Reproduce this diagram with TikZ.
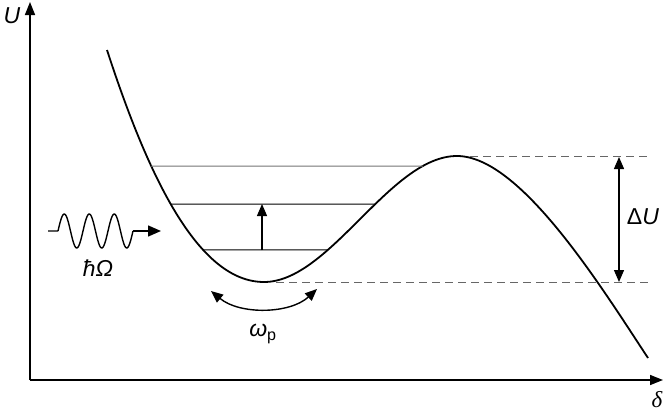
\documentclass[tikz,border=0pt]{standalone}
\usepackage{fontspec}
\setmainfont{Liberation Sans}
\newfontfamily\serifit{Liberation Serif}
\usetikzlibrary{arrows.meta,intersections}
\begin{document}
\begin{tikzpicture}[x=1pt,y=-1pt,
  axis/.style={line width=1.5pt,-{Triangle[length=13pt,width=10pt]}},
  curv/.style={line width=1.8pt},
  level/.style={line width=1pt},
  dsh/.style={line width=1pt,draw=black!60,dash pattern=on 8pt off 5pt},
  tip/.style={-{Triangle[length=12pt,width=10pt]}},
  lbl/.style={font=\fontsize{23}{26}\selectfont\itshape}]
\useasboundingbox (0,0) rectangle (667,415);
% axes
\coordinate (O) at (30,380);
\coordinate (Ytop) at (30,2);
\coordinate (Xend) at (663,380);
\draw[axis] (O) -- (Ytop);
\draw[axis] (O) -- (Xend);
\node[lbl] (Ulab) at (12,16) {U};
\node[font=\fontsize{23}{26}\selectfont\serifit\itshape,inner sep=1pt] (dlab) at (657,400) {δ};
% potential curve
\coordinate (C0) at (107,50);
\coordinate (Cmin) at (264,282);
\coordinate (Cmax) at (457,156);
\coordinate (C1) at (648,358);
\draw[curv,name path=curve] (C0) .. controls (148,176) and (198,282) .. (Cmin)
  .. controls (330,282) and (390,156) .. (Cmax)
  .. controls (520,156) and (600,285) .. (C1);
% energy levels (ending on the curve)
\path[name path=h1] (100,166) -- (445,166);
\path[name path=h2] (100,204) -- (445,204);
\path[name path=h3] (100,250) -- (445,250);
\path[name intersections={of=curve and h1,sort by=h1,name=i1}];
\path[name intersections={of=curve and h2,sort by=h2,name=i2}];
\path[name intersections={of=curve and h3,sort by=h3,name=i3}];
\draw[level,draw=black!55] (i1-1) -- (i1-2);
\draw[level] (i2-1) -- (i2-2);
\draw[level] (i3-1) -- (i3-2);
% transition arrow
\coordinate (Ta) at (262,250); \coordinate (Tb) at (262,204);
\draw[line width=1.3pt,tip] (Ta) -- (Tb);
% dashed reference lines
\coordinate (Da) at (470,156); \coordinate (Db) at (648,156);
\coordinate (Dc) at (276,282); \coordinate (Dd) at (648,282);
\draw[dsh] (Da) -- (Db);
\draw[dsh] (Dc) -- (Dd);
% Delta U arrow
\coordinate (Ua) at (619,157); \coordinate (Ub) at (619,282);
\draw[line width=1.3pt,{Triangle[length=12pt,width=10pt]}-{Triangle[length=12pt,width=10pt]}] (Ua) -- (Ub);
\node[font=\fontsize{23}{26}\selectfont] (DU) at (643,217) {Δ\textit{U}};
% photon
\coordinate (Wa) at (48,231); \coordinate (Wb) at (58,231);
\coordinate (Wc) at (133,231); \coordinate (Wd) at (161,231);
\draw[line width=1.4pt] (Wa) -- (Wb)
  plot[domain=0:75,samples=120,smooth] ({58+\x},{231-17*sin(\x*14.4)})
  -- (Wc);
\draw[line width=1.4pt,-{Triangle[length=13pt,width=11pt]}] (Wc) -- (Wd);
\node[lbl] (hW) at (98,268) {ħΩ};
% omega_p arrow
\coordinate (Pa) at (211,291); \coordinate (Pb) at (317,289);
\draw[line width=1.4pt,{Triangle[length=12pt,width=10pt]}-{Triangle[length=12pt,width=10pt]}] (Pa) .. controls (240,315) and (290,314) .. (Pb);
\node[font=\fontsize{23}{26}\selectfont] (wp) at (263,334) {\textit{ω}\textsubscript{p}};
\end{tikzpicture}
\end{document}
